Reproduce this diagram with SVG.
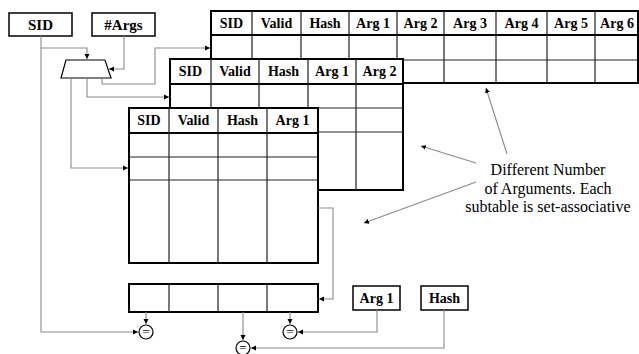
<svg xmlns="http://www.w3.org/2000/svg" width="639" height="354" viewBox="0 0 639 354">
<defs>
<marker id="ah" markerWidth="6" markerHeight="6" refX="5" refY="3" orient="auto" markerUnits="userSpaceOnUse">
<path d="M0,0.5 L5,3 L0,5.5 Z" fill="#000"/>
</marker>
<style>
.box{fill:#fff;stroke:#111;stroke-width:1.6}
.tbl{fill:#fff;stroke:#000;stroke-width:2}
.in{stroke:#222;stroke-width:1.2;fill:none}
.hd{stroke:#000;stroke-width:2;fill:none}
text{font-family:'Liberation Serif','Times New Roman','DejaVu Serif',serif}
.h{font-weight:bold;font-size:14px;text-anchor:middle;fill:#000}
.bh{font-weight:bold;font-size:15px;text-anchor:middle;fill:#000}
.c{stroke:#8a8a8a;stroke-width:1.1;fill:none;marker-end:url(#ah)}
.cmp{fill:#fff;stroke:#000;stroke-width:1.2}
.eq{font-size:13px;text-anchor:middle;fill:#000}
.note{font-size:16px;text-anchor:middle;fill:#000}
</style>
</defs>
<rect width="639" height="354" fill="#fff"/>

<g id="table6">
<rect class="tbl" x="211" y="11" width="427" height="72"/>
<path class="hd" d="M211,35 H638"/>
<path class="in" d="M211,60 H638 M252,11 V83 M301,11 V83 M349,11 V83 M397,11 V83 M444,11 V83 M496,11 V83 M547,11 V83 M595,11 V83"/>
<text class="h" x="231.5" y="28">SID</text>
<text class="h" x="276.5" y="28">Valid</text>
<text class="h" x="325" y="28">Hash</text>
<text class="h" x="373" y="28">Arg 1</text>
<text class="h" x="420.5" y="28">Arg 2</text>
<text class="h" x="470" y="28">Arg 3</text>
<text class="h" x="521.5" y="28">Arg 4</text>
<text class="h" x="571" y="28">Arg 5</text>
<text class="h" x="617" y="28">Arg 6</text>
</g>

<g id="table2">
<rect class="tbl" x="170" y="59" width="233" height="131"/>
<path class="hd" d="M170,84 H403"/>
<path class="in" d="M170,108 H403 M170,132 H403 M211,59 V190 M259,59 V190 M308,59 V190 M356,59 V190"/>
<text class="h" x="190.5" y="76">SID</text>
<text class="h" x="235" y="76">Valid</text>
<text class="h" x="283.5" y="76">Hash</text>
<text class="h" x="332" y="76">Arg 1</text>
<text class="h" x="379.5" y="76">Arg 2</text>
</g>

<g id="table1">
<rect class="tbl" x="129" y="108" width="189" height="155"/>
<path class="hd" d="M129,133 H318"/>
<path class="in" d="M129,157 H318 M129,180 H318 M169,108 V263 M218,108 V263 M267,108 V263"/>
<text class="h" x="149" y="125">SID</text>
<text class="h" x="193.5" y="125">Valid</text>
<text class="h" x="242.5" y="125">Hash</text>
<text class="h" x="292.5" y="125">Arg 1</text>
</g>

<g id="buffer">
<rect class="tbl" x="129" y="284" width="189" height="28"/>
<path class="in" d="M169,284 V312 M218,284 V312 M267,284 V312"/>
</g>

<g id="sid">
<rect class="box" x="9" y="13" width="63" height="23"/>
<text class="bh" x="40.5" y="30">SID</text>
</g>
<g id="nargs">
<rect class="box" x="92" y="13" width="63" height="23"/>
<text class="bh" x="123.5" y="30">#Args</text>
</g>
<g id="mux">
<polygon points="66,60 105,60 111,78 61,78" fill="#fff" stroke="#000" stroke-width="1.2"/>
</g>
<g id="arg1">
<rect class="box" x="353" y="286" width="47" height="24"/>
<text class="h" x="376.5" y="303">Arg 1</text>
</g>
<g id="hash">
<rect class="box" x="421" y="286" width="47" height="24"/>
<text class="h" x="444.5" y="303">Hash</text>
</g>

<g id="cmp1"><circle class="cmp" cx="146" cy="332" r="7"/><text class="eq" x="146" y="336">=</text></g>
<g id="cmp2"><circle class="cmp" cx="290" cy="332" r="7"/><text class="eq" x="290" y="336">=</text></g>
<g id="cmp3"><circle class="cmp" cx="243" cy="348" r="7"/><text class="eq" x="243" y="352">=</text></g>

<g id="note">
<text class="note" x="548" y="175">Different Number</text>
<text class="note" x="548" y="194">of Arguments. Each</text>
<text class="note" x="548" y="212">subtable is set-associative</text>
</g>

<g id="connectors">
<path class="c" d="M41,36 V332 H138"/>
<path class="c" d="M41,48 H87 V59"/>
<path class="c" d="M124,36 V69 H109"/>
<path class="c" d="M71,78 V168 H128"/>
<path class="c" d="M87,78 V97 H169"/>
<path class="c" d="M102,78 V84 H155 V48 H210"/>
<path class="c" d="M318,208 H333 V299 H319"/>
<path class="c" d="M146,312 V324"/>
<path class="c" d="M290,312 V324"/>
<path class="c" d="M243,312 V340"/>
<path class="c" d="M377,310 V332 H298"/>
<path class="c" d="M444,310 V348 H251"/>
<path class="c" d="M507,154 L486,88"/>
<path class="c" d="M476,163 L421,146"/>
<path class="c" d="M476,182 L364,223"/>
</g>
</svg>
